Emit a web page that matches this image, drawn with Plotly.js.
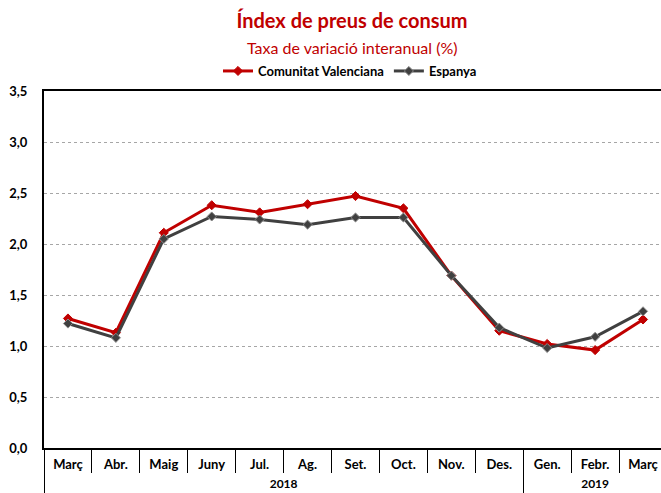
<!DOCTYPE html>
<html>
<head>
<meta charset="utf-8">
<script src="https://cdn.plot.ly/plotly-3.0.1.min.js"></script>
<style>
html, body { margin:0; padding:0; overflow:hidden; background:#fff; width:661px; height:493px; }
#chart { width:680px; height:493px; }
</style>
</head>
<body>
<div id="chart"></div>
<script>
const months = ["Març","Abr.","Maig","Juny","Jul.","Ag.","Set.","Oct.","Nov.","Des.","Gen.","Febr.","Març"];
const years  = ["2018","2018","2018","2018","2018","2018","2018","2018","2018","2018","2019","2019","2019"];
const comunitatValenciana = [1.27,1.13,2.11,2.38,2.31,2.39,2.47,2.35,1.69,1.15,1.02,0.96,1.26];
const espanya             = [1.22,1.08,2.05,2.27,2.24,2.19,2.26,2.26,1.69,1.18,0.98,1.09,1.34];
const yTicks = [0,0.5,1,1.5,2,2.5,3,3.5];

const FONT = "Lato, 'Open Sans', sans-serif";
const idx = months.map((_, i) => i);

// month boundaries and year groups, derived from the category arrays
const monthBounds = [];
for (let i = 0; i <= months.length; i++) monthBounds.push(i - 0.5);
const yearLabels = [], yearCenters = [], yearBounds = [-0.5];
years.forEach((yr, i) => {
  if (i === 0 || years[i-1] !== yr) { yearLabels.push(yr); yearCenters.push([i, i]); }
  else yearCenters[yearCenters.length-1][1] = i;
  if (i === years.length - 1 || years[i+1] !== yr) yearBounds.push(i + 0.5);
});
const yearMid = yearCenters.map(c => (c[0] + c[1]) / 2);

const traces = [
  {
    x: idx, y: comunitatValenciana, name: "Comunitat Valenciana", type: "scatter", mode: "lines+markers",
    line: {color: "#C00000", width: 3},
    marker: {symbol: "diamond", size: 7, color: "#C00000", line: {color: "#C00000", width: 1}}
  },
  {
    x: idx, y: espanya, name: "Espanya", type: "scatter", mode: "lines+markers",
    line: {color: "#404040", width: 3},
    marker: {symbol: "diamond", size: 7, color: "#404040", line: {color: "#8c8c8c", width: 1}}
  },
  { x: [0], y: [0], xaxis: "x2", yaxis: "y", showlegend: false, mode: "none", hoverinfo: "skip" }
];

const range = [monthBounds[0], monthBounds[monthBounds.length-1]];

const layout = {
  width: 680, height: 493,
  margin: {l: 44, r: 13, t: 91, b: 45},
  paper_bgcolor: "#fff", plot_bgcolor: "#fff",
  separators: ",.",
  font: {family: FONT, color: "#000"},
  title: {
    text: "<b>Índex de preus de consum</b>",
    font: {family: FONT, size: 20, color: "#C00000"},
    x: 352/680, xref: "container", xanchor: "center",
    y: 1 - 21/493, yref: "container", yanchor: "middle"
  },
  annotations: [{
    text: "Taxa de variació interanual (%)",
    xref: "paper", yref: "paper", x: (352-44)/623, y: (448-48)/357,
    xanchor: "center", yanchor: "middle", showarrow: false,
    font: {family: FONT, size: 16, color: "#C00000"}
  }],
  showlegend: true,
  legend: {
    orientation: "h", xref: "paper", yref: "paper",
    x: (350-44)/623, xanchor: "center", y: (448-71)/357, yanchor: "middle",
    font: {family: FONT, size: 13, color: "#000", weight: "bold"},
    itemwidth: 30, tracegroupgap: 0, bgcolor: "rgba(0,0,0,0)"
  },
  xaxis: {
    type: "linear", range: range,
    tickmode: "array", tickvals: idx, ticktext: months,
    showline: true, linecolor: "#000", linewidth: 2, mirror: true,
    showgrid: false, zeroline: false,
    ticks: "", ticklabelstandoff: 3,
    minor: {tickmode: "array", tickvals: monthBounds, ticks: "outside", ticklen: 23, tickcolor: "#000", tickwidth: 1, showgrid: false},
    tickfont: {family: FONT, size: 13, color: "#000", weight: "bold"}
  },
  xaxis2: {
    type: "linear", range: range, overlaying: "x", anchor: "y", side: "bottom",
    tickmode: "array", tickvals: yearMid, ticktext: yearLabels,
    showline: false, showgrid: false, zeroline: false,
    ticks: "", ticklabelstandoff: 27,
    minor: {tickmode: "array", tickvals: yearBounds, ticks: "outside", ticklen: 46, tickcolor: "#000", tickwidth: 1, showgrid: false},
    tickfont: {family: FONT, size: 12, color: "#000", weight: "bold"}
  },
  yaxis: {
    range: [0, 3.5], tickvals: yTicks, tickformat: ".1f",
    showline: true, linecolor: "#000", linewidth: 2, mirror: true,
    showgrid: true, gridcolor: "#a6a6a6", griddash: "dot", gridwidth: 1,
    zeroline: false, ticks: "", ticklabelstandoff: 12,
    tickfont: {family: FONT, size: 13, color: "#000", weight: "bold"}
  }
};

Plotly.newPlot("chart", traces, layout, {displayModeBar: false, staticPlot: true});
</script>
</body>
</html>
